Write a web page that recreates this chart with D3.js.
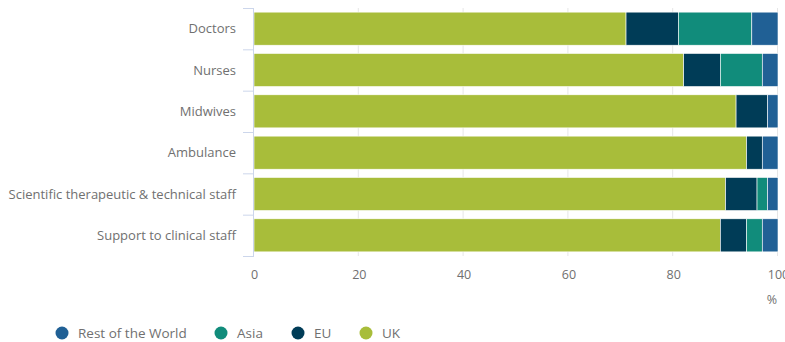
<!DOCTYPE html>
<html>
<head>
<meta charset="utf-8">
<script src="https://cdn.jsdelivr.net/npm/d3@7"></script>
<style>
  body { margin: 0; background: #fff; }
  svg { font-family: "Open Sans", sans-serif; }
</style>
</head>
<body>
<svg></svg>
<script>
const categories = ['Doctors', 'Nurses', 'Midwives', 'Ambulance', 'Scientific therapeutic & technical staff', 'Support to clinical staff']
const seriesNames = ['UK', 'EU', 'Asia', 'Rest of the World']
const ukValues = [71, 82, 92, 94, 90, 89]
const euValues = [10, 7, 6, 3, 6, 5]
const asiaValues = [14, 8, 0, 0, 2, 3]
const restValues = [5, 3, 2, 3, 2, 3]
const xTicks = [0, 20, 40, 60, 80, 100]
const colours = ['#a8bd3a', '#003c57', '#118c7b', '#206095']

// Canvas setup
let svg = d3.select('svg')
let width = 785
let height = 342
svg.attr('width', width).attr('height', height)

let plotLeft = 254, plotRight = 778, plotTop = 8, plotBottom = 256

let rows = categories.map((c, i) => ({
    cat: c, UK: ukValues[i], EU: euValues[i], Asia: asiaValues[i], 'Rest of the World': restValues[i]
}))
let stacked = d3.stack().keys(seriesNames)(rows)

// Scales
let xScale = d3.scaleLinear().domain([0, 100]).range([plotLeft, plotRight])
let yScale = d3.scaleBand().domain(categories).range([plotTop, plotBottom])
    .paddingInner(0.2).paddingOuter(0.1)
let colour = d3.scaleOrdinal().domain(seriesNames).range(colours)

// Gridlines
svg.append('g')
    .selectAll('line')
    .data(xTicks.slice(1))
    .enter()
    .append('line')
    .attr('x1', d => xScale(d) - 0.5)
    .attr('x2', d => xScale(d) - 0.5)
    .attr('y1', plotTop)
    .attr('y2', plotBottom)
    .attr('stroke', '#e6e6e6')

// Bars
svg.append('g')
    .selectAll('g')
    .data(stacked)
    .enter()
    .append('g')
    .attr('fill', d => colour(d.key))
    .selectAll('rect')
    .data(d => d.filter(p => p[1] > p[0]))
    .enter()
    .append('rect')
    .attr('x', d => xScale(d[0]))
    .attr('width', d => xScale(d[1]) - xScale(d[0]))
    .attr('y', d => yScale(d.data.cat))
    .attr('height', yScale.bandwidth())
    .attr('stroke', '#fff')
    .attr('stroke-width', 0.6)

// Left axis with category boundary ticks
let step = yScale.step()
let yAxis = svg.append('g')
yAxis.append('line')
    .attr('x1', plotLeft - 0.5).attr('x2', plotLeft - 0.5)
    .attr('y1', plotTop).attr('y2', plotBottom)
    .attr('stroke', '#ccd6eb')
yAxis.selectAll('.tk')
    .data(d3.range(categories.length + 1))
    .enter()
    .append('line')
    .attr('x1', plotLeft - 11).attr('x2', plotLeft)
    .attr('y1', i => plotTop + i * step + 0.5)
    .attr('y2', i => plotTop + i * step + 0.5)
    .attr('stroke', '#ccd6eb')
yAxis.selectAll('text')
    .data(categories)
    .enter()
    .append('text')
    .attr('x', 236)
    .attr('y', d => yScale(d) + yScale.bandwidth() / 2)
    .attr('dy', '0.35em')
    .attr('text-anchor', 'end')
    .attr('fill', '#707070')
    .style('font-size', '13px')
    .text(d => d)

// Bottom axis labels
let xAxis = d3.axisBottom(xScale).tickValues(xTicks).tickSize(0).tickPadding(14)
let xg = svg.append('g')
    .attr('transform', 'translate(0,' + plotBottom + ')')
    .call(xAxis)
xg.select('.domain').remove()
xg.selectAll('text')
    .attr('fill', '#707070')
    .style('font-size', '12.5px')
    .style('font-family', '"Open Sans", sans-serif')

svg.append('text')
    .attr('x', 777)
    .attr('y', 304)
    .attr('text-anchor', 'end')
    .attr('fill', '#707070')
    .style('font-size', '12.5px')
    .text('%')

// Legend (reversed order)
let legendX = [62, 221, 298, 366]
let legend = svg.append('g')
    .selectAll('g')
    .data(seriesNames.slice().reverse())
    .enter()
    .append('g')
    .attr('transform', (d, i) => 'translate(' + legendX[i] + ',333)')
legend.append('circle')
    .attr('r', 6.5)
    .attr('fill', d => colour(d))
legend.append('text')
    .attr('x', 16)
    .attr('dy', '0.35em')
    .attr('fill', '#707070')
    .style('font-size', '13.5px')
    .text(d => d)
</script>
</body>
</html>
